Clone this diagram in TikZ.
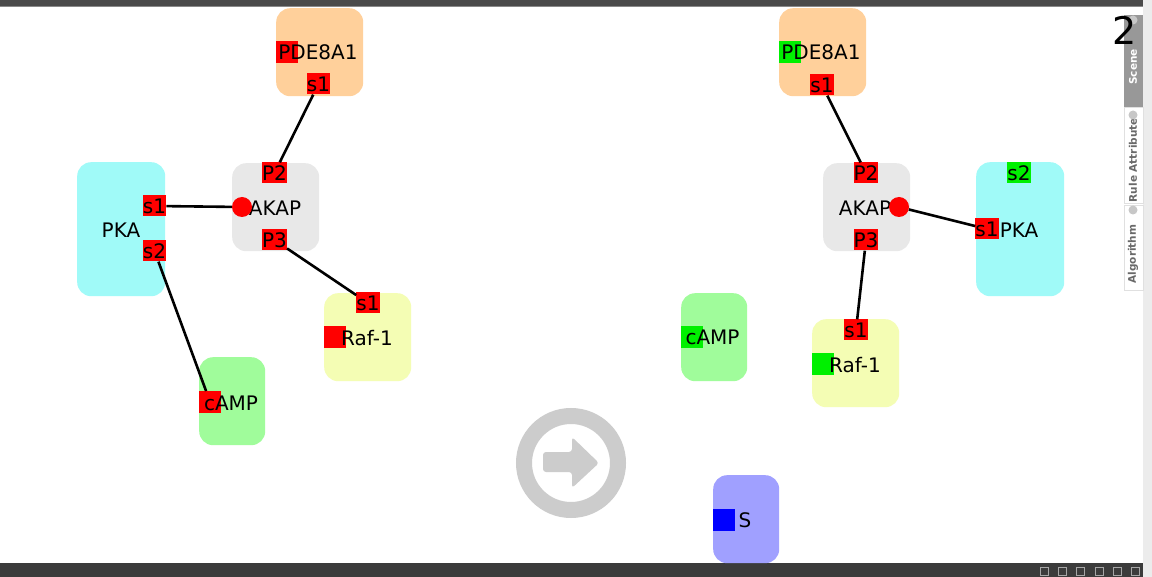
\documentclass[tikz,border=0pt]{standalone}
\usepackage{fontspec}
\setmainfont{DejaVu Sans}
\usepackage{tikz}
\definecolor{pdefill}{RGB}{255,208,155}
\definecolor{akapfill}{RGB}{232,232,232}
\definecolor{pkafill}{RGB}{160,250,248}
\definecolor{raffill}{RGB}{244,253,180}
\definecolor{campfill}{RGB}{160,252,155}
\definecolor{sfill}{RGB}{160,160,255}
\definecolor{sitered}{RGB}{255,0,0}
\definecolor{sitegreen}{RGB}{0,240,0}
\definecolor{siteblue}{RGB}{0,0,255}
\definecolor{ringgray}{RGB}{204,204,204}
\definecolor{barfill}{RGB}{74,74,74}
\definecolor{panelfill}{RGB}{236,236,236}
\definecolor{tabfill}{RGB}{152,152,152}
\definecolor{tabtext}{RGB}{105,105,105}
\tikzset{
  mol/.style={
    fill=#1, rounded corners=14pt, inner sep=0pt,
    minimum width=87pt, minimum height=88pt,
  },
  mol/.default=akapfill,
  tall/.style={minimum height=134pt, minimum width=88pt},
  narrow/.style={minimum width=66pt},
  site/.style={fill=#1, minimum size=22pt, inner sep=0pt},
  site/.default=sitered,
  port/.style={
    fill=#1, minimum width=22pt, minimum height=21pt, inner sep=0pt,
    font=\fontsize{20}{23}\selectfont,
  },
  port/.default=sitered,
  bind/.style={circle, fill=sitered, minimum size=20pt, inner sep=0pt},
  lbl/.style={font=\fontsize{20}{23}\selectfont, inner sep=0pt},
  bond/.style={line width=2.6pt, draw=black},
  tablbl/.style={rotate=90, font=\fontsize{10.5}{12}\selectfont\bfseries, inner sep=0pt},
  tabx/.style={circle, fill=black!22, minimum size=9pt, inner sep=0pt},
}

\begin{document}
\begin{tikzpicture}[x=1pt,y=-1pt]
  \useasboundingbox (0,0) rectangle (1152,577);
  \fill[white] (0,0) rectangle (1152,577);

  % window frame
  \fill[barfill] (0,0) rectangle (1143,7);
  \fill[barfill!65] (0,6) rectangle (1143,7);
  \fill[panelfill] (1143,0) rectangle (1152,577);
  \fill[barfill!80!black] (0,563) rectangle (1143,577);
  \foreach \ix in {1044,1062,1080,1099,1117,1135}
    \draw[black!35!white, line width=0.8pt] (\ix-4,567) rectangle (\ix+4,575);

  % side tabs
  \fill[tabfill] (1124,15) rectangle (1143,107);
  \draw[black!12] (1124,107) rectangle (1143,203);
  \draw[black!12] (1124,205) rectangle (1143,290);
  \node[tablbl, text=white] (tscene) at (1133,67) {Scene};
  \begin{scope}
    \clip (1124,120) rectangle (1143,202);
    \node[tablbl, text=tabtext] (trule) at (1133,157) {Rule Attributes};
  \end{scope}
  \node[tablbl, text=tabtext] (talgo) at (1133,254) {Algorithm};
  \node[tabx] (xscene) at (1133,20) {};
  \node[tabx] (xrule) at (1133,115) {};
  \node[tabx] (xalgo) at (1133,210) {};
  \node[font=\fontsize{38}{40}\selectfont, inner sep=0pt] (pagenum) at (1125,30) {2};

  % left-hand side
  \node[mol=pdefill, anchor=north west] (lpde) at (276,8) {};
  \node[mol=akapfill, anchor=north west] (lakap) at (232,163) {};
  \node[mol=pkafill, tall, anchor=north west] (lpka) at (77,162) {};
  \node[mol=raffill, anchor=north west] (lraf) at (324,293) {};
  \node[mol=campfill, narrow, anchor=north west] (lcamp) at (199,357) {};

  \node[site, anchor=north west] (lpdex) at (276,41) {};
  \node[site, anchor=north west] (lrafx) at (324,326) {};
  \node[site, anchor=north west] (lcampx) at (199,391) {};

  \node[lbl] (lpdet) at (318,52) {PDE8A1};
  \node[lbl] (lakapt) at (275,208) {AKAP};
  \node[lbl] (lpkat) at (121,230) {PKA};
  \node[lbl] (lraft) at (367,338) {Raf-1};
  \node[lbl] (lcampt) at (231,403) {cAMP};

  \node[port] (lpdes1) at (318.5,84) {s1};
  \node[port] (lakapp2) at (274.5,173) {P2};
  \node[port] (lakapp3) at (274.5,240) {P3};
  \node[port] (lpkas1) at (154.5,206) {s1};
  \node[port] (lpkas2) at (154.5,251) {s2};
  \node[port] (lrafs1) at (368,303) {s1};
  \node[bind] (lakapb) at (242,207) {};

  \draw[bond] (lpdes1) -- (lakapp2);
  \draw[bond] (lakapb) -- (lpkas1);
  \draw[bond] (lakapp3) -- (lrafs1);
  \draw[bond] (lpkas2) -- (lcampx);

  % rewrite arrow
  \node[circle, draw=ringgray, line width=16pt, minimum size=94pt, inner sep=0pt] (go) at (571,463) {};
  \fill[ringgray, rounded corners=3pt]
    (543,452) -- (572,452) -- (572,437) -- (599,463) -- (572,488) -- (572,472) -- (543,472) -- cycle;

  % right-hand side
  \node[mol=pdefill, anchor=north west] (rpde) at (779,8) {};
  \node[mol=akapfill, anchor=north west] (rakap) at (823,163) {};
  \node[mol=pkafill, tall, anchor=north west] (rpka) at (976,162) {};
  \node[mol=campfill, narrow, anchor=north west] (rcamp) at (681,293) {};
  \node[mol=raffill, anchor=north west] (rraf) at (812,319) {};
  \node[mol=sfill, narrow, anchor=north west] (smol) at (713,475) {};

  \node[site=sitegreen, anchor=north west] (rpdex) at (779,41) {};
  \node[site=sitegreen, anchor=north west] (rcampx) at (681,326) {};
  \node[site=sitegreen, anchor=north west] (rrafx) at (812,353) {};
  \node[site=siteblue, anchor=north west] (ssite) at (713,509) {};

  \node[lbl] (rpdet) at (821,52) {PDE8A1};
  \node[lbl] (rakapt) at (865,208) {AKAP};
  \node[lbl] (rpkat) at (1019,230) {PKA};
  \node[lbl] (rcampt) at (712.5,337) {cAMP};
  \node[lbl] (rraft) at (855,365) {Raf-1};
  \node[lbl] (st) at (745,520) {S};

  \node[port] (rpdes1) at (822,85) {s1};
  \node[port] (rakapp2) at (866,173) {P2};
  \node[port] (rakapp3) at (866,240) {P3};
  \node[port] (rpkas1) at (987,229) {s1};
  \node[port=sitegreen] (rpkas2) at (1019,173) {s2};
  \node[port] (rrafs1) at (856,330) {s1};
  \node[bind] (rakapb) at (899,207) {};

  \draw[bond] (rpdes1) -- (rakapp2);
  \draw[bond] (rakapb) -- (rpkas1);
  \draw[bond] (rakapp3) -- (rrafs1);
\end{tikzpicture}
\end{document}
